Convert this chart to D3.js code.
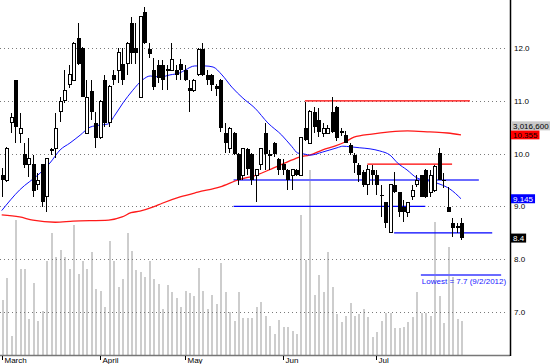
<!DOCTYPE html>
<html><head><meta charset="utf-8">
<script src="https://cdn.jsdelivr.net/npm/d3@7"></script>
<style>html,body{margin:0;padding:0;background:#fff;overflow:hidden}svg{display:block}</style>
</head><body><svg id="c" width="550" height="364"></svg>
<script>
// ---- data ----
const opens = [9.59,9.50,10.58,11.39,10.39,9.99,9.80,9.80,9.41,9.80,
9.18,10.05,10.09,10.79,11.00,11.30,11.39,12.19,12.00,10.39,
11.19,10.58,10.30,11.39,10.58,11.49,11.58,11.70,11.70,12.47,
12.00,11.07,12.68,11.98,11.58,11.68,11.68,11.58,11.58,11.58,
11.70,11.58,11.24,11.19,11.49,11.98,11.49,11.49,11.28,11.39,
10.39,10.09,10.39,9.99,9.59,10.09,9.99,9.59,9.80,10.39,
9.99,10.20,9.90,9.80,9.69,9.59,9.69,9.59,10.48,10.20,
10.79,10.64,10.39,10.39,10.79,10.88,10.43,10.35,10.16,9.97,
9.78,9.65,9.41,9.69,9.59,9.22,9.08,8.50,9.41,9.27,
8.99,8.89,9.18,9.41,9.59,9.69,9.27,9.31,10.01,9.50,
8.99,8.69,8.63,8.69];
const highs = [9.73,10.12,10.77,11.40,10.77,10.20,10.30,9.97,9.63,9.81,
9.91,10.11,10.77,11.07,11.58,11.68,12.11,12.47,12.02,11.39,
11.39,10.79,11.02,11.49,11.30,11.58,12.00,12.00,12.11,12.59,
12.47,12.61,12.78,12.09,11.81,11.77,11.77,11.68,12.09,11.68,
11.79,11.68,11.39,11.41,12.00,12.09,11.58,11.51,11.32,11.41,
10.58,10.50,10.41,10.01,10.11,10.11,10.01,9.71,10.11,10.58,
10.07,10.22,9.92,9.90,9.71,9.71,9.71,10.31,10.98,10.83,
10.88,10.86,10.58,10.54,11.07,10.90,10.48,10.43,10.20,10.01,
9.82,9.69,9.78,9.78,9.69,9.41,9.09,9.42,9.65,9.28,
9.12,9.08,9.41,9.59,9.60,9.70,9.69,9.78,10.11,9.63,
9.37,8.78,8.69,8.78];
const lows = [9.18,9.46,10.39,10.20,10.20,9.73,9.56,9.18,9.31,8.99,
8.89,9.97,9.92,10.60,10.96,11.24,11.38,11.68,11.07,10.37,
10.64,10.11,10.28,10.50,10.50,11.30,11.34,11.30,11.49,11.70,
11.70,11.06,12.08,11.81,11.20,11.34,11.20,11.20,11.56,11.39,
11.39,11.38,10.79,11.17,11.47,11.47,11.30,11.19,11.09,10.41,
10.01,10.01,9.97,9.41,9.50,9.59,9.41,9.08,9.69,9.69,
9.69,9.94,9.59,9.59,9.31,9.31,9.58,9.58,10.24,10.18,
10.39,10.31,10.31,10.37,10.39,10.24,10.33,10.20,9.97,9.63,
9.46,9.37,9.22,9.41,9.22,8.80,8.59,8.49,9.25,8.80,
8.70,8.80,9.12,9.37,9.18,9.16,9.18,9.27,9.50,9.35,
8.89,8.42,8.50,8.36];
const closes = [9.50,10.09,10.69,10.50,10.48,9.78,9.90,9.29,9.50,9.08,
9.90,10.07,10.48,10.98,11.19,11.49,12.09,11.70,11.07,11.07,
10.79,10.30,10.98,10.58,11.28,11.39,11.91,11.39,12.09,11.91,
11.91,12.59,12.09,11.89,11.26,11.43,11.39,11.60,11.79,11.49,
11.58,11.39,11.19,11.39,11.98,11.49,11.39,11.30,11.22,10.48,
10.20,10.48,9.99,9.50,10.09,9.71,9.50,9.69,10.09,9.99,
9.95,9.99,9.69,9.69,9.50,9.69,9.59,10.30,10.26,10.79,
10.50,10.41,10.48,10.48,10.41,10.30,10.39,10.20,10.01,9.82,
9.59,9.41,9.69,9.59,9.41,9.20,8.69,9.41,9.27,8.89,
8.89,9.08,9.31,9.50,9.18,9.18,9.59,9.75,9.50,9.48,
8.89,8.59,8.59,8.40];
// volume, millions of shares
const volumes = [4.9,6.8,1.7,12.0,7.6,7.6,3.2,6.4,3.0,3.9,
8.3,10.8,8.7,9.3,8.7,7.6,11.5,7.2,8.3,7.6,
9.1,5.9,5.7,4.3,10.1,8.3,6.0,6.7,10.8,9.2,
7.5,7.4,6.9,8.3,6.7,6.3,4.1,6.2,5.6,5.1,
4.3,5.7,5.5,5.2,7.7,5.7,4.1,5.3,4.5,8.2,
5.6,3.8,3.0,5.6,3.3,3.3,3.3,4.3,4.7,3.5,
2.6,1.9,3.1,2.5,2.5,2.1,1.9,12.4,8.4,16.4,
5.3,7.1,5.6,9.1,6.0,3.6,2.9,3.5,4.6,3.5,
3.6,4.1,3.4,1.6,2.0,3.0,3.7,3.7,2.4,2.4,
2.5,2.9,3.4,5.6,3.7,3.7,3.5,11.8,5.2,2.8,
9.6,6.9,3.2,3.0166];
// short moving average (blue): [bar index, value]
const maShortIdx = [0,4,8.6,10.8,13.1,15.3,17.6,19.8,22,23.8,25.4,27.2,29.4,31.5,33.3,35.5,37.7,40,41.1,43.3,45.6,47.4,49.4,51.6,54.1,56.8,59.7,62.8,65.1,66.4,68,69.1,72,75.2,76.5,78.1,80.3,82.6,84.8,87.1,88.8,90.9,93.1,94.5,96,98.3,100.5,103];
const maShortVal = [8.92,9.31,9.63,9.82,10.07,10.20,10.35,10.50,10.54,10.56,10.73,10.96,11.20,11.39,11.47,11.45,11.49,11.53,11.58,11.66,11.66,11.64,11.49,11.26,11.05,10.86,10.58,10.35,10.13,10.01,9.99,9.97,10.03,10.11,10.14,10.13,10.11,10.09,10.05,9.97,9.82,9.69,9.54,9.50,9.48,9.42,9.33,9.145];
// long moving average (red)
const maLongIdx = [0,4,7,12,16,24,27,29,31,34,36,40,44,49,53,57,61,64,67,69,72,75,77,79,83,87,91,96,100,103];
const maLongVal = [8.84,8.80,8.74,8.70,8.72,8.74,8.80,8.88,8.91,8.99,9.06,9.18,9.27,9.37,9.50,9.59,9.73,9.84,9.94,9.97,10.07,10.15,10.22,10.31,10.37,10.41,10.43,10.41,10.39,10.355];
// horizontal level lines
const levelPrice = [11.0, 9.8, 9.5, 9.0, 8.5, 7.7];
const levelFrom  = [68, 82, 52, 52, 88, 94];
const levelTo    = [105, 101, 107, 95, 110, 112];
const levelKind  = ["res","res","sup2","sup","sup","low"];
const priceTicks = [7, 8, 9, 10, 11, 12];
const priceTickLabels = ["7.0","8.0","9.0","10.0","11.0","12.0"];
const monthLabels = ["March","April","May","Jun","Jul"];
const monthTickIdx = [0, 22, 41, 63, 84];
const lowestText = "Lowest = 7.7 (9/2/2012)";
const lastVolumeLabel = "3,016,600";

// ---- drawing ----
const W = 550, H = 364;
const plotRight = 510, plotBottom = 355;
const svg = d3.select("#c");
const font = "'Liberation Sans', Arial, sans-serif";
const x = d3.scaleLinear().domain([0, closes.length - 1]).range([1.7, 461]);
const y = d3.scaleLinear().domain([7, 12]).range([312, 48]);
const yv = d3.scaleLinear().domain([0, 31.5]).range([plotBottom, 0]);
const cx = i => Math.round(x(i)) + 0.5;

// volume bars
svg.append("g").selectAll("rect").data(volumes).join("rect")
  .attr("x", (d, i) => cx(i) - 1).attr("width", 2)
  .attr("y", d => yv(d)).attr("height", d => plotBottom - yv(d))
  .attr("fill", "#cdcdcd").attr("shape-rendering", "crispEdges");

// gridlines
svg.append("g").selectAll("line").data(priceTicks).join("line")
  .attr("x1", 0).attr("x2", 508)
  .attr("y1", d => Math.round(y(d)) + 0.5).attr("y2", d => Math.round(y(d)) + 0.5)
  .attr("stroke", "#7a7a7a").attr("stroke-dasharray", "1,3");

// level lines
const lvl = svg.append("g");
levelPrice.forEach((p, k) => {
  const kind = levelKind[k];
  const col = kind === "res" ? "#ff0000" : (kind === "sup" ? "#0000ff" : "#6b6bff");
  const sw = (kind === "sup2" || kind === "low") ? 2 : 1.3;
  lvl.append("line")
    .attr("x1", x(levelFrom[k])).attr("x2", x(levelTo[k]))
    .attr("y1", y(p)).attr("y2", y(p))
    .attr("stroke", col).attr("stroke-width", sw);
});

// moving averages
const lineGen = d3.line().curve(d3.curveMonotoneX);
svg.append("path")
  .attr("d", lineGen(maLongIdx.map((d, i) => [x(d), y(maLongVal[i])])))
  .attr("fill", "none").attr("stroke", "#ff1a1a").attr("stroke-width", 1.3);
svg.append("path")
  .attr("d", lineGen(maShortIdx.map((d, i) => [x(d), y(maShortVal[i])])))
  .attr("fill", "none").attr("stroke", "#1010ff").attr("stroke-width", 1);

// candles
const cg = svg.append("g").attr("shape-rendering", "crispEdges");
closes.forEach((c, i) => {
  const o = opens[i], X = cx(i);
  cg.append("line").attr("x1", X).attr("x2", X)
    .attr("y1", y(highs[i])).attr("y2", y(lows[i]))
    .attr("stroke", "#000").attr("stroke-width", 1);
  const top = y(Math.max(o, c)), bot = y(Math.min(o, c));
  const h = Math.max(1, bot - top);
  if (c >= o) {
    cg.append("rect").attr("x", X - 1.5).attr("width", 3)
      .attr("y", top).attr("height", h)
      .attr("fill", "#fff").attr("stroke", "#000").attr("stroke-width", 1);
  } else {
    cg.append("rect").attr("x", X - 2).attr("width", 4)
      .attr("y", top).attr("height", h).attr("fill", "#000");
  }
});

// lowest annotation text
const lowIdx = levelKind.indexOf("low");
svg.append("text").attr("x", x(levelFrom[lowIdx]) + 1).attr("y", y(levelPrice[lowIdx]) + 9)
  .attr("font-family", font).attr("font-size", 8).attr("fill", "#2020ff")
  .text(lowestText);

// axes lines
svg.append("line").attr("x1", 0).attr("x2", plotRight).attr("y1", plotBottom + 0.5).attr("y2", plotBottom + 0.5)
  .attr("stroke", "#777").attr("stroke-width", 1.5);
svg.append("line").attr("x1", plotRight + 0.5).attr("x2", plotRight + 0.5).attr("y1", 0).attr("y2", plotBottom + 1)
  .attr("stroke", "#000").attr("stroke-width", 1.5);

// price labels
svg.append("g").selectAll("text").data(priceTicks).join("text")
  .attr("x", 514).attr("y", d => y(d) + 3)
  .attr("font-family", font).attr("font-size", 8).attr("fill", "#000")
  .text((d, i) => priceTickLabels[i]);

// month ticks
const mg = svg.append("g");
monthTickIdx.forEach((idx, k) => {
  const X = cx(idx);
  mg.append("line").attr("x1", X).attr("x2", X).attr("y1", plotBottom + 1).attr("y2", plotBottom + 5)
    .attr("stroke", "#000");
  mg.append("text").attr("x", X + 2).attr("y", 363)
    .attr("font-family", font).attr("font-size", 8).attr("fill", "#000")
    .text(monthLabels[k]);
});

// value boxes on right axis
function box(val, label, bg, fg, yc) {
  const t = svg.append("text").attr("x", 513).attr("y", yc + 3)
    .attr("font-family", font).attr("font-size", 8).attr("fill", fg).text(label);
  const w = t.node().getComputedTextLength();
  svg.insert("rect", () => t.node()).attr("x", 511).attr("y", yc - 4.5)
    .attr("width", w + 4).attr("height", 9).attr("fill", bg);
}
const lastLong = maLongVal[maLongVal.length - 1];
const lastShort = maShortVal[maShortVal.length - 1];
const lastClose = closes[closes.length - 1];
box(lastLong, d3.format(".3f")(lastLong), "#ff0000", "#000", y(lastLong));
box(volumes[volumes.length - 1], lastVolumeLabel, "#c8c8c8", "#000", y(lastLong) - 9);
box(lastShort, d3.format(".3f")(lastShort), "#0000ff", "#fff", y(lastShort));
box(lastClose, String(lastClose), "#000", "#fff", y(lastClose));
</script>
</body></html>
